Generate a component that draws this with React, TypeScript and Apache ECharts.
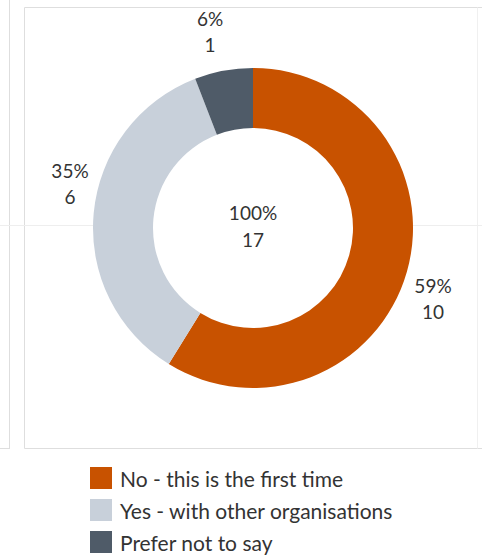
import React, { useEffect, useRef } from "react";
import * as echarts from "echarts";

const categories = ["No - this is the first time", "Yes - with other organisations", "Prefer not to say"];
const values = [10, 6, 1];
const colors = ["#C85200", "#C8D0DA", "#4F5B68"];

export default function App() {
  const ref = useRef<HTMLDivElement>(null);
  useEffect(() => {
    if (!ref.current) return;
    const chart = echarts.init(ref.current, null, { renderer: "svg" });
    const total = values.reduce((a, b) => a + b, 0);
    const border = "#dedede";
    const labelPos: Record<number, [number, number]> = { 0: [433, 298], 1: [70, 183], 2: [210, 31] };
    chart.setOption({
      animation: false,
      backgroundColor: "#ffffff",
      textStyle: { fontFamily: "Lato" },
      legend: {
        orient: "vertical",
        left: 90,
        top: 467,
        padding: 0,
        icon: "rect",
        itemWidth: 22,
        itemHeight: 22,
        itemGap: 10,
        selectedMode: false,
        textStyle: { fontSize: 21, color: "#333", fontFamily: "Lato", padding: [0, 0, 0, 3] },
        data: categories,
      },
      graphic: [
        { type: "line", silent: true, z: -1, shape: { x1: 9.5, y1: 0, x2: 9.5, y2: 448.5 }, style: { stroke: border, lineWidth: 1 } },
        { type: "line", silent: true, z: -1, shape: { x1: 0, y1: 448.5, x2: 10, y2: 448.5 }, style: { stroke: border, lineWidth: 1 } },
        { type: "line", silent: true, z: -1, shape: { x1: 24.5, y1: 7.5, x2: 24.5, y2: 448.5 }, style: { stroke: border, lineWidth: 1 } },
        { type: "line", silent: true, z: -1, shape: { x1: 24.5, y1: 7.5, x2: 482, y2: 7.5 }, style: { stroke: border, lineWidth: 1 } },
        { type: "line", silent: true, z: -1, shape: { x1: 24.5, y1: 448.5, x2: 482, y2: 448.5 }, style: { stroke: border, lineWidth: 1 } },
        { type: "line", silent: true, z: -1, shape: { x1: 477.5, y1: 7.5, x2: 477.5, y2: 448.5 }, style: { stroke: "#f0f0f0", lineWidth: 1 } },
        { type: "line", silent: true, z: -1, shape: { x1: 0, y1: 225.5, x2: 93, y2: 225.5 }, style: { stroke: "#eeeeee", lineWidth: 1 } },
        { type: "line", silent: true, z: -1, shape: { x1: 413, y1: 225.5, x2: 482, y2: 225.5 }, style: { stroke: "#eeeeee", lineWidth: 1 } },
        {
          type: "text",
          x: 253,
          y: 226,
          style: {
            text: `100%\n${total}`,
            align: "center",
            verticalAlign: "middle",
            fontSize: 19,
            lineHeight: 27,
            fill: "#333",
            fontFamily: "Lato",
          },
        },
      ],
      series: [
        {
          type: "pie",
          center: [253, 228],
          radius: [100, 160],
          startAngle: 90,
          clockwise: true,
          avoidLabelOverlap: false,
          percentPrecision: 0,
          label: {
            show: true,
            position: "outside",
            formatter: "{d}%\n{c}",
            fontSize: 19,
            lineHeight: 26,
            color: "#333",
            fontFamily: "Lato",
            align: "center",
          },
          labelLine: { show: false, length: 18, length2: 8 },
          labelLayout: (p: any) => {
            const pos = labelPos[p.dataIndex];
            return { x: pos[0], y: pos[1], align: "center", verticalAlign: "middle" };
          },
          emphasis: { disabled: true },
          data: categories.map((name, i) => ({ name, value: values[i], itemStyle: { color: colors[i] } })),
        },
      ],
    });
    return () => chart.dispose();
  }, []);
  return <div ref={ref} style={{ position: "fixed", left: 0, top: 0, width: 482, height: 555 }} />;
}
